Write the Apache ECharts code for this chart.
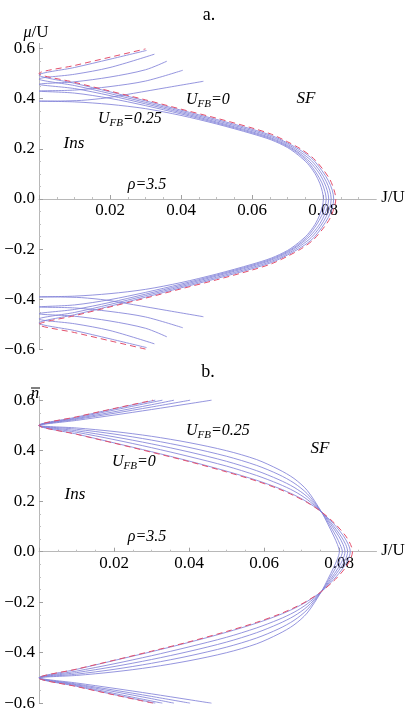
<!DOCTYPE html>
<html><head><meta charset="utf-8">
<script src="https://cdn.jsdelivr.net/npm/echarts@6/dist/echarts.min.js"></script>
<style>html,body{margin:0;padding:0;background:#fff}#c{width:409px;height:719px}</style>
</head><body><div id="c"></div>
<script>
// U_FB values of the blue curves
const uFB = [0, 0.1, 0.15, 0.2, 0.25];
const xTicks = [0.02, 0.04, 0.06, 0.08];
const yTicks = [-0.6, -0.4, -0.2, 0, 0.2, 0.4, 0.6];

// ---- Panel a: mu/U vs J/U (upper half; lower half is its mirror image) ----
// lobe branch: J = 0 -> tip ; outward branch: J = 0 -> end
const a_lobe_red = [[0,0.5],[0.01,0.465],[0.02,0.43],[0.03,0.395],[0.04,0.358],[0.05,0.322],[0.06,0.283],[0.0655,0.258],[0.07,0.228],[0.074,0.197],[0.0773,0.162],[0.0801,0.116],[0.082,0.076],[0.0831,0.036],[0.0836,0]];
const a_out_red  = [[0,0.5],[0.01,0.532],[0.02,0.565],[0.030,0.598]];
const a_lobe_U0  = [[0,0.494],[0.01,0.461],[0.02,0.427],[0.03,0.391],[0.04,0.354],[0.05,0.317],[0.06,0.278],[0.0655,0.253],[0.07,0.223],[0.074,0.191],[0.0771,0.158],[0.0797,0.113],[0.0815,0.073],[0.0826,0.035],[0.083,0]];
const a_out_U0   = [[0,0.494],[0.01,0.524],[0.02,0.557],[0.0303,0.592]];
const a_lobe_U10 = [[0,0.478],[0.01,0.452],[0.02,0.42],[0.03,0.385],[0.04,0.349],[0.05,0.312],[0.06,0.273],[0.0655,0.248],[0.07,0.218],[0.0737,0.186],[0.0767,0.153],[0.0792,0.11],[0.0809,0.07],[0.0819,0.034],[0.0823,0]];
const a_out_U10  = [[0,0.478],[0.01,0.497],[0.02,0.524],[0.0325,0.577]];
const a_lobe_U15 = [[0,0.457],[0.01,0.44],[0.02,0.412],[0.03,0.379],[0.04,0.344],[0.05,0.307],[0.06,0.268],[0.0655,0.243],[0.07,0.213],[0.0735,0.181],[0.0763,0.148],[0.0787,0.107],[0.0803,0.067],[0.0812,0.033],[0.0816,0]];
const a_out_U15  = [[0,0.457],[0.01,0.467],[0.02,0.486],[0.03,0.515],[0.036,0.549]];
const a_lobe_U20 = [[0,0.43],[0.01,0.422],[0.02,0.401],[0.03,0.372],[0.04,0.339],[0.05,0.303],[0.06,0.264],[0.0655,0.239],[0.07,0.209],[0.0733,0.178],[0.0759,0.145],[0.0781,0.104],[0.0797,0.064],[0.0805,0.031],[0.0809,0]];
const a_out_U20  = [[0,0.43],[0.01,0.434],[0.02,0.448],[0.03,0.47],[0.0405,0.513]];
const a_lobe_U25 = [[0,0.39],[0.01,0.387],[0.02,0.377],[0.03,0.36],[0.04,0.333],[0.05,0.299],[0.06,0.26],[0.0655,0.235],[0.07,0.205],[0.073,0.175],[0.0756,0.142],[0.0777,0.102],[0.0791,0.062],[0.0798,0.03],[0.0801,0]];
const a_out_U25  = [[0,0.39],[0.006,0.3905],[0.012,0.393],[0.019,0.403],[0.0266,0.421],[0.036,0.444],[0.0463,0.469]];

// ---- Panel b: n-bar vs J/U (upper half; lower half is its mirror image) ----
const b_lobe_red = [[0,0.5],[0.01,0.465],[0.02,0.43],[0.03,0.394],[0.04,0.357],[0.05,0.316],[0.058,0.28],[0.064,0.248],[0.068,0.222],[0.0715,0.195],[0.0753,0.158],[0.079,0.11],[0.0818,0.062],[0.0831,0.028],[0.0836,0]];
const b_out_red  = [[0,0.5],[0.01,0.534],[0.02,0.567],[0.0304,0.6]];
const b_lobe_U0  = [[0,0.5],[0.01,0.466],[0.02,0.431],[0.03,0.396],[0.04,0.359],[0.05,0.319],[0.058,0.283],[0.064,0.251],[0.068,0.225],[0.0715,0.197],[0.0753,0.158],[0.0786,0.11],[0.0812,0.062],[0.0825,0.028],[0.083,0]];
const b_out_U0   = [[0,0.5],[0.01,0.533],[0.02,0.566],[0.031,0.6]];
const b_lobe_U10 = [[0,0.5],[0.01,0.473],[0.02,0.444],[0.03,0.412],[0.04,0.377],[0.05,0.339],[0.058,0.302],[0.064,0.268],[0.068,0.24],[0.0715,0.207],[0.0753,0.158],[0.0781,0.11],[0.0805,0.062],[0.0818,0.028],[0.0823,0]];
const b_out_U10  = [[0,0.5],[0.01,0.53],[0.02,0.561],[0.0329,0.6]];
const b_lobe_U15 = [[0,0.5],[0.01,0.479],[0.02,0.455],[0.03,0.427],[0.04,0.395],[0.05,0.358],[0.058,0.321],[0.064,0.285],[0.068,0.255],[0.0715,0.218],[0.0753,0.158],[0.0777,0.11],[0.0799,0.062],[0.0811,0.028],[0.0816,0]];
const b_out_U15  = [[0,0.5],[0.01,0.527],[0.02,0.554],[0.03,0.582],[0.036,0.6]];
const b_lobe_U20 = [[0,0.5],[0.01,0.485],[0.02,0.466],[0.03,0.442],[0.04,0.413],[0.05,0.378],[0.058,0.342],[0.064,0.305],[0.068,0.272],[0.0715,0.23],[0.0753,0.158],[0.0773,0.11],[0.0792,0.062],[0.0803,0.028],[0.0809,0]];
const b_out_U20  = [[0,0.5],[0.01,0.524],[0.02,0.548],[0.03,0.573],[0.0403,0.6]];
const b_lobe_U25 = [[0,0.5],[0.01,0.49],[0.02,0.476],[0.03,0.457],[0.04,0.432],[0.05,0.4],[0.058,0.365],[0.064,0.325],[0.068,0.29],[0.0715,0.243],[0.0753,0.158],[0.077,0.11],[0.0786,0.062],[0.0796,0.028],[0.0801,0]];
const b_out_U25  = [[0,0.5],[0.01,0.52],[0.02,0.541],[0.03,0.563],[0.04,0.586],[0.046,0.6]];

const FONT = 'Liberation Serif';
const BLUE = '#8282d8';
const RED = '#e4506c';

// join lower outward -> lower lobe -> tip -> upper lobe -> upper outward
function fullCurve(lobe, out) {
  const lowOut = out.slice().reverse().map(p => [p[0], -p[1]]);
  const lowLobe = lobe.slice(1).map(p => [p[0], -p[1]]);
  const upLobe = lobe.slice(0, -1).reverse();
  const upOut = out.slice(1);
  return lowOut.concat(lowLobe, upLobe, upOut);
}

const panels = [
  {blue: [[a_lobe_U0,a_out_U0],[a_lobe_U10,a_out_U10],[a_lobe_U15,a_out_U15],[a_lobe_U20,a_out_U20],[a_lobe_U25,a_out_U25]], red: [a_lobe_red,a_out_red]},
  {blue: [[b_lobe_U0,b_out_U0],[b_lobe_U10,b_out_U10],[b_lobe_U15,b_out_U15],[b_lobe_U20,b_out_U20],[b_lobe_U25,b_out_U25]], red: [b_lobe_red,b_out_red]}
];

const grids = [
  {left: 39, width: 337.3, top: 43.4, height: 306.2},
  {left: 39, width: 337.5, top: 396.4, height: 306.8}
];
const xMax = [0.095, 0.09];
const yMax = [0.62, 0.615];
// shift x axis from grid bottom up to the value 0 line
const xOffset = [-150.6, -151.5];

function xAxis(i) {
  return {
    gridIndex: i, type: 'value', min: 0, max: xMax[i], position: 'bottom', offset: xOffset[i],
    axisLine: {onZero: false, lineStyle: {color: '#b8b8b8', width: 1}},
    axisTick: {inside: true, length: 4, customValues: [0].concat(xTicks), lineStyle: {color: '#a0a0a0'}},
    minorTick: {show: true, splitNumber: 4, length: 2, lineStyle: {color: '#c0c0c0'}},
    axisLabel: {customValues: xTicks, formatter: v => v.toFixed(2), margin: 3, fontFamily: FONT, fontSize: 17, color: '#000'},
    splitLine: {show: false}
  };
}
function yAxis(i) {
  return {
    gridIndex: i, type: 'value', min: -0.6, max: yMax[i],
    axisLine: {onZero: false, lineStyle: {color: '#b8b8b8', width: 1}},
    axisTick: {inside: true, length: 4, customValues: yTicks, lineStyle: {color: '#a0a0a0'}},
    minorTick: {show: true, splitNumber: 4, length: 2, lineStyle: {color: '#c0c0c0'}},
    axisLabel: {customValues: yTicks, margin: 4, fontFamily: FONT, fontSize: 17, color: '#000',
      formatter: v => (v < -1e-9 ? '\u2212' + Math.abs(v).toFixed(1) : Math.abs(v).toFixed(1))},
    splitLine: {show: false}
  };
}

const series = [];
panels.forEach((p, i) => {
  p.blue.forEach((c, k) => {
    series.push({type: 'line', name: 'UFB=' + uFB[k], xAxisIndex: i, yAxisIndex: i, data: fullCurve(c[0], c[1]),
      showSymbol: false, symbol: 'none', smooth: 0.3, silent: true, lineStyle: {color: BLUE, width: 0.85}, z: 2});
  });
  series.push({type: 'line', name: 'red', xAxisIndex: i, yAxisIndex: i, data: fullCurve(p.red[0], p.red[1]),
    showSymbol: false, symbol: 'none', smooth: 0.3, silent: true, lineStyle: {color: RED, width: 1, type: [6, 4]}, z: 3});
});

function txt(x, y, text, extra) {
  return {type: 'text', x: x, y: y, silent: true, z: 10,
    style: Object.assign({text: text, fontFamily: FONT, fontSize: 17, fill: '#000', align: 'center', verticalAlign: 'middle'}, extra || {})};
}
const rich = {
  i: {fontFamily: FONT, fontStyle: 'italic', fontSize: 16, lineHeight: 20, verticalAlign: 'middle'},
  s: {fontFamily: FONT, fontStyle: 'italic', fontSize: 11, lineHeight: 11, verticalAlign: 'bottom'},
  r: {fontFamily: FONT, fontSize: 17, lineHeight: 20, verticalAlign: 'middle'}
};
function ufb(x, y, val) {
  return txt(x, y, '{i|U}{s|FB}{i|=' + val + '}', {align: 'left', rich: rich});
}

const graphic = [
  txt(209, 15, 'a.', {fontSize: 18}),
  txt(36, 33, '{i|\u03bc}{r|/U}', {rich: rich}),
  txt(393, 198, 'J/U', {fontSize: 17}),
  ufb(186, 100, '0'),
  txt(306, 99, 'SF', {fontStyle: 'italic', fontSize: 17}),
  ufb(98, 119, '0.25'),
  txt(74, 144, 'Ins', {fontStyle: 'italic', fontSize: 17}),
  txt(147, 185, '\u03c1=3.5', {fontStyle: 'italic', fontSize: 16}),

  txt(208, 372, 'b.', {fontSize: 18}),
  txt(35, 394, 'n', {fontStyle: 'italic', fontSize: 17}),
  {type: 'line', silent: true, z: 10, shape: {x1: 31, y1: 388, x2: 40, y2: 388}, style: {stroke: '#000', lineWidth: 1}},
  txt(393, 551, 'J/U', {fontSize: 17}),
  ufb(186, 431, '0.25'),
  txt(320, 449, 'SF', {fontStyle: 'italic', fontSize: 17}),
  ufb(112, 462, '0'),
  txt(75, 495, 'Ins', {fontStyle: 'italic', fontSize: 17}),
  txt(147, 537, '\u03c1=3.5', {fontStyle: 'italic', fontSize: 16})
];

const chart = echarts.init(document.getElementById('c'), null, {renderer: 'canvas'});
chart.setOption({
  animation: false,
  backgroundColor: '#fff',
  grid: grids,
  xAxis: [xAxis(0), xAxis(1)],
  yAxis: [yAxis(0), yAxis(1)],
  series: series,
  graphic: graphic
});
</script>
</body></html>
